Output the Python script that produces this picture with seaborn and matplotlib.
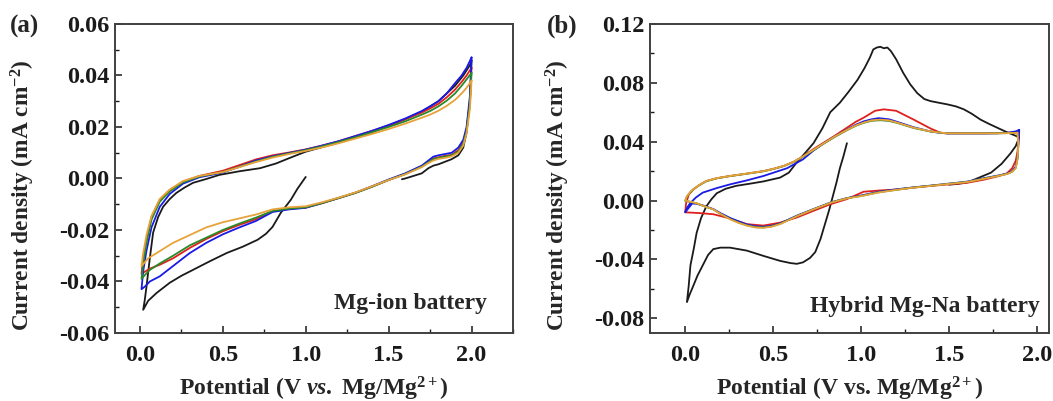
import numpy as np
import pandas as pd
import matplotlib
matplotlib.use("Agg")
import matplotlib.pyplot as plt
from matplotlib.ticker import MultipleLocator
import seaborn as sns

# ---------------- Panel (a): Mg-ion battery ----------------
# cycle 1 (black) starts at 1.0 V, sweeps down, then up to 2.0 V and back
a_black_x = [1.00, 0.95, 0.91, 0.85, 0.80, 0.76, 0.71, 0.62, 0.525, 0.42, 0.32, 0.25, 0.18, 0.10, 0.05, 0.02,
             0.03, 0.04, 0.06, 0.08, 0.11, 0.14, 0.18, 0.22, 0.27, 0.32, 0.40, 0.48, 0.60, 0.725, 0.82, 0.92, 1.00,
             1.20, 1.40, 1.60, 1.70, 1.80, 1.90, 1.95, 1.99, 2.00,
             1.99, 1.97, 1.95, 1.92, 1.88, 1.84, 1.80, 1.77, 1.74, 1.70, 1.65, 1.60, 1.58]
a_black_y = [0.0006, -0.0040, -0.0083, -0.0133, -0.0188, -0.0215, -0.0238, -0.0265, -0.0289, -0.0322, -0.0355,
             -0.0378, -0.0405, -0.0445, -0.0475, -0.0510,
             -0.0470, -0.0420, -0.0310, -0.0210, -0.0150, -0.0110, -0.0080, -0.0056, -0.0035, -0.0017, -0.0002,
             0.0014, 0.0028, 0.0040, 0.0058, 0.0084, 0.0104,
             0.0140, 0.0180, 0.0230, 0.0260, 0.0300, 0.0360, 0.0400, 0.0440, 0.0460,
             0.0300, 0.0180, 0.0120, 0.0090, 0.0075, 0.0065, 0.0055, 0.0050, 0.0040, 0.0020, 0.0010, 0.0000, -0.0003]

a_red_x = [2.00, 1.99, 1.97, 1.95, 1.92, 1.88, 1.84, 1.80, 1.77, 1.74, 1.70, 1.60, 1.50, 1.40, 1.30, 1.20, 1.10,
           1.00, 0.90, 0.80, 0.70, 0.60, 0.50, 0.40, 0.30, 0.20, 0.12, 0.06, 0.03, 0.01,
           0.02, 0.04, 0.07, 0.12, 0.18, 0.26, 0.36, 0.50, 0.60, 0.70, 0.80, 0.90, 1.00,
           1.10, 1.20, 1.30, 1.40, 1.50, 1.60, 1.70, 1.75, 1.80, 1.85, 1.90, 1.94, 1.97, 2.00]
a_red_y = [0.0430, 0.0300, 0.0190, 0.0140, 0.0110, 0.0092, 0.0088, 0.0082, 0.0078, 0.0065, 0.0048, 0.0018,
           -0.0006, -0.0032, -0.0056, -0.0076, -0.0096, -0.0113, -0.0118, -0.0128, -0.0158, -0.0180, -0.0205,
           -0.0235, -0.0270, -0.0310, -0.0335, -0.0350, -0.0362, -0.0370,
           -0.0310, -0.0236, -0.0150, -0.0082, -0.0045, -0.0012, 0.0010, 0.0030, 0.0052, 0.0074, 0.0090,
           0.0101, 0.0113, 0.0128, 0.0145, 0.0165, 0.0185, 0.0206, 0.0230, 0.0256, 0.0272, 0.0290, 0.0315,
           0.0345, 0.0375, 0.0400, 0.0430]

a_blue_x = [2.00, 1.99, 1.97, 1.95, 1.92, 1.88, 1.84, 1.80, 1.77, 1.74, 1.70, 1.60, 1.50, 1.40, 1.30, 1.20, 1.10,
            1.00, 0.90, 0.80, 0.70, 0.60, 0.50, 0.40, 0.30, 0.20, 0.12, 0.06, 0.03, 0.01,
            0.02, 0.04, 0.07, 0.12, 0.18, 0.26, 0.36, 0.50, 0.60, 0.70, 0.80, 0.90, 1.00,
            1.10, 1.20, 1.30, 1.40, 1.50, 1.60, 1.70, 1.75, 1.80, 1.85, 1.90, 1.94, 1.97, 2.00]
a_blue_y = [0.0470, 0.0320, 0.0200, 0.0150, 0.0120, 0.0100, 0.0095, 0.0090, 0.0085, 0.0070, 0.0050, 0.0020,
            -0.0004, -0.0030, -0.0055, -0.0075, -0.0095, -0.0114, -0.0120, -0.0130, -0.0165, -0.0190, -0.0217,
            -0.0250, -0.0290, -0.0340, -0.0380, -0.0400, -0.0420, -0.0430,
            -0.0360, -0.0280, -0.0190, -0.0110, -0.0060, -0.0020, 0.0005, 0.0023, 0.0046, 0.0070, 0.0086,
            0.0099, 0.0112, 0.0128, 0.0145, 0.0165, 0.0185, 0.0208, 0.0233, 0.0262, 0.0280, 0.0300, 0.0330,
            0.0370, 0.0400, 0.0430, 0.0470]

a_green_x = [2.00, 1.99, 1.97, 1.95, 1.92, 1.88, 1.84, 1.80, 1.77, 1.74, 1.70, 1.60, 1.50, 1.40, 1.30, 1.20, 1.10,
             1.00, 0.90, 0.80, 0.70, 0.60, 0.50, 0.40, 0.30, 0.20, 0.12, 0.06, 0.03, 0.01,
             0.02, 0.04, 0.07, 0.12, 0.18, 0.26, 0.36, 0.50, 0.60, 0.70, 0.80, 0.90, 1.00,
             1.10, 1.20, 1.30, 1.40, 1.50, 1.60, 1.70, 1.75, 1.80, 1.85, 1.90, 1.94, 1.97, 2.00]
a_green_y = [0.0410, 0.0290, 0.0185, 0.0135, 0.0105, 0.0090, 0.0085, 0.0080, 0.0075, 0.0063, 0.0046, 0.0017,
             -0.0006, -0.0032, -0.0056, -0.0076, -0.0095, -0.0112, -0.0117, -0.0126, -0.0152, -0.0175, -0.0200,
             -0.0230, -0.0260, -0.0300, -0.0330, -0.0355, -0.0375, -0.0390,
             -0.0330, -0.0250, -0.0160, -0.0090, -0.0050, -0.0015, 0.0008, 0.0025, 0.0045, 0.0066, 0.0084,
             0.0097, 0.0110, 0.0125, 0.0142, 0.0160, 0.0180, 0.0200, 0.0222, 0.0248, 0.0262, 0.0280, 0.0302,
             0.0330, 0.0360, 0.0385, 0.0410]

a_orange_x = [2.00, 1.99, 1.97, 1.95, 1.92, 1.88, 1.84, 1.80, 1.77, 1.74, 1.70, 1.60, 1.50, 1.40, 1.30, 1.20, 1.10,
              1.00, 0.90, 0.80, 0.70, 0.60, 0.50, 0.40, 0.30, 0.20, 0.10, 0.05, 0.03, 0.01,
              0.02, 0.04, 0.07, 0.12, 0.18, 0.26, 0.36, 0.50, 0.60, 0.70, 0.80, 0.90, 1.00,
              1.10, 1.20, 1.30, 1.40, 1.50, 1.60, 1.70, 1.75, 1.80, 1.85, 1.90, 1.94, 1.97, 2.00]
a_orange_y = [0.0380, 0.0270, 0.0175, 0.0128, 0.0100, 0.0086, 0.0080, 0.0076, 0.0070, 0.0060, 0.0044, 0.0016,
              -0.0006, -0.0030, -0.0054, -0.0074, -0.0092, -0.0108, -0.0112, -0.0120, -0.0140, -0.0155, -0.0170,
              -0.0190, -0.0220, -0.0250, -0.0290, -0.0310, -0.0325, -0.0340,
              -0.0290, -0.0220, -0.0146, -0.0080, -0.0043, -0.0010, 0.0010, 0.0025, 0.0044, 0.0064, 0.0081,
              0.0095, 0.0107, 0.0121, 0.0137, 0.0155, 0.0173, 0.0192, 0.0213, 0.0236, 0.0248, 0.0263, 0.0282,
              0.0305, 0.0330, 0.0352, 0.0380]

# ---------------- Panel (b): Hybrid Mg-Na battery ----------------
b_black_x = [0.92, 0.90, 0.88, 0.86, 0.84, 0.82, 0.80, 0.77, 0.74, 0.71, 0.67, 0.635, 0.60, 0.54, 0.445, 0.35,
             0.255, 0.20, 0.16, 0.13, 0.10, 0.07, 0.046, 0.025, 0.01,
             0.02, 0.03, 0.05, 0.065, 0.09, 0.12, 0.15, 0.18, 0.23, 0.29, 0.37, 0.445, 0.54, 0.59, 0.635, 0.68,
             0.73, 0.78, 0.825, 0.88, 0.93, 0.98, 1.02, 1.05, 1.07, 1.09, 1.11, 1.13, 1.15, 1.17, 1.20, 1.24,
             1.28, 1.32, 1.36, 1.395, 1.45, 1.49, 1.54, 1.585, 1.63, 1.68, 1.73, 1.775, 1.82, 1.87, 1.90,
             1.88, 1.85, 1.80, 1.74, 1.68, 1.61, 1.55, 1.50]
b_black_y = [0.0390, 0.0300, 0.0220, 0.0120, 0.0030, -0.0060, -0.0140, -0.0260, -0.0350, -0.0390, -0.0420,
             -0.0430, -0.0425, -0.0410, -0.0376, -0.0340, -0.0320, -0.0320, -0.0330, -0.0370, -0.0440, -0.0510,
             -0.0580, -0.0640, -0.0690,
             -0.0580, -0.0440, -0.0320, -0.0220, -0.0120, -0.0040, 0.0010, 0.0050, 0.0080, 0.0100, 0.0115,
             0.0130, 0.0156, 0.0190, 0.0260, 0.0320, 0.0390, 0.0490, 0.0600, 0.0665, 0.0740, 0.0820, 0.0900,
             0.0970, 0.1027, 0.1040, 0.1045, 0.1035, 0.1040, 0.1016, 0.0960, 0.0868, 0.0790, 0.0730, 0.0690,
             0.0676, 0.0663, 0.0654, 0.0640, 0.0620, 0.0590, 0.0550, 0.0520, 0.0495, 0.0470, 0.0445, 0.0430,
             0.0370, 0.0320, 0.0250, 0.0190, 0.0160, 0.0125, 0.0113, 0.0108]

b_red_x = [1.90, 1.895, 1.89, 1.88, 1.86, 1.83, 1.78, 1.70, 1.60, 1.50, 1.40, 1.30, 1.20, 1.10, 1.015, 0.92,
           0.825, 0.73, 0.635, 0.54, 0.445, 0.35, 0.25, 0.16, 0.08, 0.0,
           0.005, 0.02, 0.046, 0.08, 0.12, 0.18, 0.255, 0.35, 0.445, 0.50, 0.56, 0.62, 0.67, 0.73, 0.79, 0.85,
           0.92, 0.97, 1.015, 1.08, 1.13, 1.20, 1.30, 1.395, 1.45, 1.49, 1.60, 1.70, 1.775, 1.83, 1.88, 1.90]
b_red_y = [0.0470, 0.0390, 0.0330, 0.0270, 0.0220, 0.0185, 0.0165, 0.0142, 0.0120, 0.0110, 0.0100, 0.0088,
           0.0075, 0.0068, 0.0060, 0.0010, -0.0025, -0.0070, -0.0115, -0.0150, -0.0170, -0.0160, -0.0120,
           -0.0093, -0.0085, -0.0080,
           -0.0020, 0.0040, 0.0075, 0.0105, 0.0133, 0.0152, 0.0167, 0.0183, 0.0200, 0.0215, 0.0235, 0.0265,
           0.0300, 0.0350, 0.0395, 0.0440, 0.0495, 0.0535, 0.0563, 0.0610, 0.0620, 0.0610, 0.0550, 0.0490,
           0.0462, 0.0457, 0.0457, 0.0457, 0.0458, 0.0460, 0.0465, 0.0470]

b_blue_x = [1.90, 1.895, 1.89, 1.88, 1.86, 1.83, 1.78, 1.70, 1.60, 1.50, 1.40, 1.30, 1.20, 1.10, 1.00, 0.92,
            0.83, 0.74, 0.64, 0.54, 0.49, 0.445, 0.40, 0.35, 0.30, 0.255, 0.20, 0.16, 0.10, 0.065, 0.04, 0.0,
            0.01, 0.027, 0.06, 0.10, 0.18, 0.255, 0.35, 0.445, 0.58, 0.67, 0.73, 0.79, 0.85, 0.92, 0.97,
            1.015, 1.06, 1.10, 1.16, 1.205, 1.30, 1.395, 1.45, 1.49, 1.60, 1.70, 1.775, 1.83, 1.88, 1.90]
b_blue_y = [0.0480, 0.0380, 0.0290, 0.0230, 0.0200, 0.0183, 0.0170, 0.0152, 0.0128, 0.0115, 0.0102, 0.0090,
            0.0076, 0.0060, 0.0034, 0.0017, -0.0012, -0.0053, -0.0100, -0.0155, -0.0172, -0.0178, -0.0175,
            -0.0162, -0.0140, -0.0118, -0.0085, -0.0058, -0.0033, -0.0022, -0.0020, -0.0080,
            -0.0050, -0.0020, 0.0020, 0.0054, 0.0085, 0.0110, 0.0137, 0.0167, 0.0220, 0.0280, 0.0340, 0.0390,
            0.0435, 0.0482, 0.0515, 0.0538, 0.0552, 0.0560, 0.0552, 0.0535, 0.0498, 0.0470, 0.0460, 0.0456,
            0.0456, 0.0456, 0.0457, 0.0460, 0.0470, 0.0480]

b_green_x = [1.89, 1.895, 1.89, 1.88, 1.86, 1.83, 1.78, 1.70, 1.60, 1.50, 1.40, 1.30, 1.20, 1.10, 1.00, 0.92,
             0.83, 0.74, 0.64, 0.54, 0.49, 0.445, 0.40, 0.35, 0.30, 0.255, 0.20, 0.16, 0.10, 0.065, 0.03, 0.0,
             0.01, 0.03, 0.046, 0.08, 0.12, 0.18, 0.255, 0.35, 0.445, 0.50, 0.56, 0.62, 0.67, 0.73, 0.79, 0.85,
             0.92, 0.97, 1.015, 1.06, 1.11, 1.16, 1.205, 1.30, 1.395, 1.45, 1.49, 1.60, 1.70, 1.775, 1.83,
             1.88, 1.89]
b_green_y = [0.0462, 0.0375, 0.0282, 0.0222, 0.0196, 0.0181, 0.0168, 0.0149, 0.0126, 0.0114, 0.0101, 0.0089,
             0.0073, 0.0056, 0.0031, 0.0016, -0.0013, -0.0055, -0.0103, -0.0158, -0.0176, -0.0183, -0.0181,
             -0.0168, -0.0148, -0.0125, -0.0090, -0.0060, -0.0035, -0.0019, -0.0009, -0.0002,
             0.0028, 0.0058, 0.0076, 0.0104, 0.0131, 0.0151, 0.0166, 0.0182, 0.0199, 0.0214, 0.0234, 0.0264,
             0.0298, 0.0343, 0.0388, 0.0432, 0.0478, 0.0508, 0.0528, 0.0542, 0.0546, 0.0541, 0.0528, 0.0493,
             0.0469, 0.0461, 0.0457, 0.0457, 0.0457, 0.0457, 0.0458, 0.0460, 0.0462]

b_orange_x = [1.89, 1.895, 1.89, 1.88, 1.86, 1.83, 1.78, 1.70, 1.60, 1.50, 1.40, 1.30, 1.20, 1.10, 1.00, 0.92,
              0.83, 0.74, 0.64, 0.54, 0.49, 0.445, 0.40, 0.35, 0.30, 0.255, 0.20, 0.16, 0.10, 0.065, 0.03, 0.0,
              0.01, 0.03, 0.046, 0.08, 0.12, 0.18, 0.255, 0.35, 0.445, 0.50, 0.56, 0.62, 0.67, 0.73, 0.79, 0.85,
              0.92, 0.97, 1.015, 1.06, 1.11, 1.16, 1.205, 1.30, 1.395, 1.45, 1.49, 1.60, 1.70, 1.775, 1.83,
              1.88, 1.89]
b_orange_y = [0.0460, 0.0380, 0.0280, 0.0220, 0.0195, 0.0180, 0.0167, 0.0148, 0.0125, 0.0113, 0.0100, 0.0088,
              0.0072, 0.0055, 0.0030, 0.0015, -0.0014, -0.0055, -0.0104, -0.0160, -0.0178, -0.0185, -0.0183,
              -0.0170, -0.0150, -0.0127, -0.0090, -0.0060, -0.0035, -0.0018, -0.0008, 0.0000,
              0.0030, 0.0060, 0.0077, 0.0105, 0.0133, 0.0152, 0.0167, 0.0183, 0.0200, 0.0215, 0.0235, 0.0265,
              0.0300, 0.0345, 0.0390, 0.0435, 0.0480, 0.0510, 0.0530, 0.0545, 0.0550, 0.0545, 0.0530, 0.0495,
              0.0470, 0.0462, 0.0457, 0.0457, 0.0457, 0.0457, 0.0458, 0.0460, 0.0460]

cycle_names = ["1st", "2nd", "3rd", "4th", "5th"]
cycle_colors = ["#1a1a1a", "#e0201c", "#1a1ae6", "#2a8a2a", "#e8a23a"]


def build_df(curves):
    frames = []
    for name, (xs, ys) in zip(cycle_names, curves):
        frames.append(pd.DataFrame({"Potential": xs, "Current": ys, "Cycle": name}))
    return pd.concat(frames, ignore_index=True)


df_a = build_df([(a_black_x, a_black_y), (a_red_x, a_red_y), (a_blue_x, a_blue_y),
                 (a_green_x, a_green_y), (a_orange_x, a_orange_y)])
df_b = build_df([(b_black_x, b_black_y), (b_red_x, b_red_y), (b_blue_x, b_blue_y),
                 (b_green_x, b_green_y), (b_orange_x, b_orange_y)])

sns.set_style("ticks")
plt.rcParams["font.family"] = ["Liberation Serif", "DejaVu Serif"]
plt.rcParams["font.weight"] = "bold"
plt.rcParams["axes.labelweight"] = "bold"
plt.rcParams["mathtext.fontset"] = "custom"
plt.rcParams["mathtext.rm"] = "Liberation Serif:bold"
plt.rcParams["mathtext.bf"] = "Liberation Serif:bold"
plt.rcParams["mathtext.it"] = "Liberation Serif:bold:italic"
plt.rcParams["mathtext.default"] = "rm"

fig = plt.figure(figsize=(10.53, 4.01), dpi=100)
ax_a = fig.add_axes([0.1092, 0.1696, 0.378, 0.7706])
ax_b = fig.add_axes([0.6173, 0.1696, 0.379, 0.7706])

palette = dict(zip(cycle_names, cycle_colors))
for ax, df in ((ax_a, df_a), (ax_b, df_b)):
    sns.lineplot(data=df, x="Potential", y="Current", hue="Cycle", palette=palette,
                 sort=False, estimator=None, legend=False, linewidth=1.3, ax=ax)

# Axis settings
ax_a.set_xlim(-0.15, 2.25)
ax_a.set_ylim(-0.06, 0.06)
ax_a.yaxis.set_major_locator(MultipleLocator(0.02))
ax_a.yaxis.set_minor_locator(MultipleLocator(0.01))

ax_b.set_xlim(-0.2, 2.07)
ax_b.set_ylim(-0.09, 0.12)
ax_b.yaxis.set_major_locator(MultipleLocator(0.04))
ax_b.yaxis.set_minor_locator(MultipleLocator(0.02))

for ax in (ax_a, ax_b):
    ax.xaxis.set_major_locator(MultipleLocator(0.5))
    ax.xaxis.set_minor_locator(MultipleLocator(0.25))
    ax.xaxis.set_major_formatter(plt.FuncFormatter(lambda v, p: f"{v:.1f}"))
    ax.yaxis.set_major_formatter(plt.FuncFormatter(lambda v, p: f"{v:.2f}"))
    ax.tick_params(axis="both", which="major", direction="in", length=5, width=1.1,
                   labelsize=17.5, colors="#1a1a1a")
    ax.tick_params(axis="both", which="minor", direction="in", length=3, width=1.0, colors="#1a1a1a")
    ax.tick_params(axis="x", which="major", pad=9)
    ax.tick_params(axis="y", which="major", pad=4)
    for lab in ax.get_xticklabels() + ax.get_yticklabels():
        lab.set_fontweight("bold")
    for sp in ax.spines.values():
        sp.set_visible(True)
        sp.set_linewidth(1.4)
        sp.set_color("#404040")
    ax.set_ylabel(r"Current density (mA cm$^{-2}$)", fontsize=16.8, fontweight="bold")
    ax.yaxis.set_label_coords(-0.195, 0.445)

ax_a.set_xlabel(r"Potential (V $\it{vs.}$ Mg/Mg$^{2+}$)", fontsize=17, fontweight="bold", labelpad=6)
ax_b.set_xlabel(r"Potential (V vs. Mg/Mg$^{2+}$)", fontsize=17, fontweight="bold", labelpad=6)

ax_a.text(0.935, 0.078, "Mg-ion battery", transform=ax_a.transAxes, ha="right", va="baseline",
          fontsize=17, fontweight="bold")
ax_b.text(0.977, 0.068, "Hybrid Mg-Na battery", transform=ax_b.transAxes, ha="right", va="baseline",
          fontsize=17, fontweight="bold")

fig.text(0.009, 0.918, "(a)", fontsize=18, fontweight="bold", va="baseline")
fig.text(0.519, 0.918, "(b)", fontsize=18, fontweight="bold", va="baseline")

fig.savefig("out.png", dpi=100)
